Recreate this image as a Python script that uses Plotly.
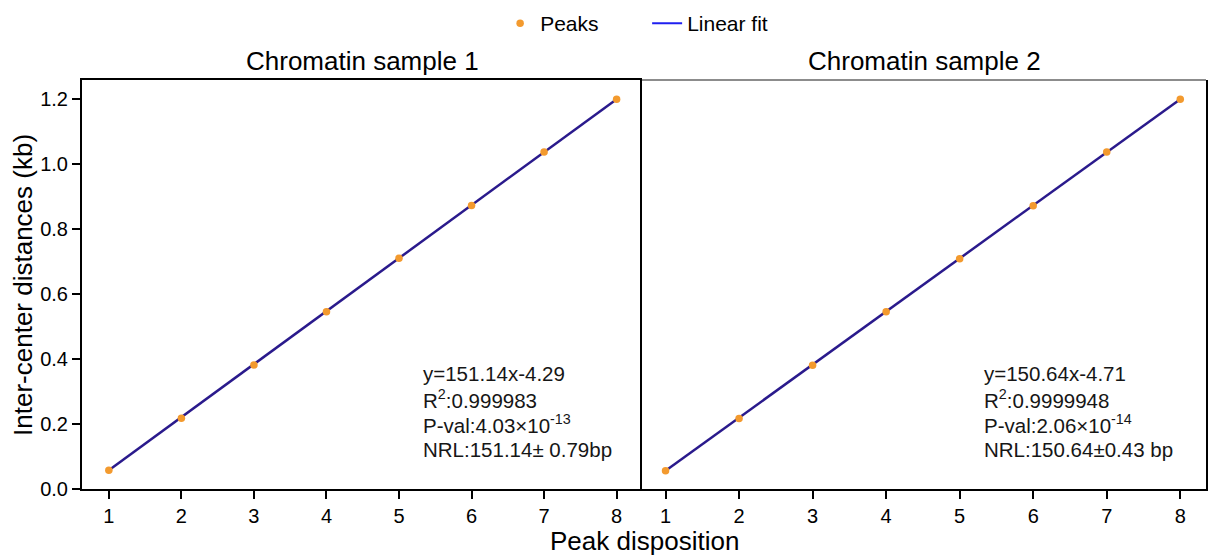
import plotly.graph_objects as go

# ---- data ----
peak_pos = [1, 2, 3, 4, 5, 6, 7, 8]
sample1_dist = [0.058, 0.218, 0.382, 0.546, 0.710, 0.873, 1.037, 1.200]
sample2_dist = [0.056, 0.217, 0.381, 0.546, 0.709, 0.872, 1.037, 1.200]
fit_x = [1, 8]
fit1_y = [0.058, 1.200]
fit2_y = [0.056, 1.200]
panel_titles = ["Chromatin sample 1", "Chromatin sample 2"]
stats1 = ["y=151.14x-4.29", "R<sup>2</sup>:0.999983", "P-val:4.03×10<sup>-13</sup>", "NRL:151.14± 0.79bp"]
stats2 = ["y=150.64x-4.71", "R<sup>2</sup>:0.9999948", "P-val:2.06×10<sup>-14</sup>", "NRL:150.64±0.43 bp"]
x_ticks = [1, 2, 3, 4, 5, 6, 7, 8]
y_ticks = [0.0, 0.2, 0.4, 0.6, 0.8, 1.0, 1.2]
y_tick_text = ["0.0", "0.2", "0.4", "0.6", "0.8", "1.0", "1.2"]

FONT = "Liberation Sans, Arial, sans-serif"
ORANGE = "#F39A2E"
LINE = "#2A1A8C"
LEG_LINE = "#1F1FF0"

fig = go.Figure()

for i, (fy, py) in enumerate([(fit1_y, sample1_dist), (fit2_y, sample2_dist)]):
    xa = "x" if i == 0 else "x2"
    ya = "y" if i == 0 else "y2"
    fig.add_trace(go.Scatter(x=fit_x, y=fy, mode="lines", xaxis=xa, yaxis=ya,
                             line=dict(color=LINE, width=2.5), showlegend=False,
                             hoverinfo="skip"))
    fig.add_trace(go.Scatter(x=peak_pos, y=py, mode="markers", xaxis=xa, yaxis=ya,
                             marker=dict(color=ORANGE, size=7.5), name="Peaks",
                             showlegend=(i == 0), legendrank=1))

# legend entry for the fit line (blue swatch as in the reference)
fig.add_trace(go.Scatter(x=[None], y=[None], mode="lines", name="Linear fit",
                         line=dict(color=LEG_LINE, width=2), legendrank=2))

split = 561 / 1126
axis_common = dict(showline=True, linecolor="black", linewidth=2, showgrid=False,
                   zeroline=False, ticks="outside", ticklen=8, tickwidth=2,
                   tickcolor="black", tickfont=dict(size=20, color="black", family=FONT))

fig.update_layout(
    width=1211, height=555,
    margin=dict(l=82, r=3, t=77, b=66),
    plot_bgcolor="white", paper_bgcolor="white",
    font=dict(family=FONT, color="black"),
    xaxis=dict(domain=[0, split], range=[0.63, 8.35], tickvals=x_ticks, mirror=True,
               **axis_common),
    xaxis2=dict(domain=[split, 1], range=[0.68, 8.35], tickvals=x_ticks, mirror=False,
                anchor="y2", **axis_common),
    yaxis=dict(range=[0, 1.259], tickvals=y_ticks, ticktext=y_tick_text, mirror=False,
               anchor="x", **axis_common),
    yaxis2=dict(range=[0, 1.259], matches="y", anchor="x2", showline=True, mirror=True,
                linecolor="black", linewidth=2, showgrid=False, zeroline=False,
                showticklabels=False, ticks=""),
    legend=dict(orientation="h", x=0.372, xanchor="left", y=1.138, yanchor="middle",
                font=dict(size=21, color="black", family=FONT), entrywidth=102,
                bgcolor="rgba(0,0,0,0)"),
    showlegend=True,
)

# gray top border of the right panel
fig.add_shape(type="line", xref="x2 domain", yref="y2 domain", x0=0, x1=1, y0=1, y1=1,
              line=dict(color="#8C8C8C", width=2))

PLOT_TOP, PLOT_BOTTOM = 77, 489


def paper_y(px):
    return (PLOT_BOTTOM - px) / (PLOT_BOTTOM - PLOT_TOP)


anns = []
for i, t in enumerate(panel_titles):
    anns.append(dict(text=t, xref="x domain" if i == 0 else "x2 domain", yref="paper",
                     x=0.5, y=paper_y(58), xanchor="center", yanchor="middle", showarrow=False,
                     font=dict(size=26, color="black", family=FONT)))
line_centers = [373, 398.5, 424, 449.5]
for i, st in enumerate([stats1, stats2]):
    for line_text, cy in zip(st, line_centers):
        anns.append(dict(text=line_text, xref="x" if i == 0 else "x2", yref="paper",
                         x=5.31, y=paper_y(cy), xanchor="left", yanchor="middle",
                         align="left", showarrow=False,
                         font=dict(size=20.5, color="#161616", family=FONT)))
anns.append(dict(text="Peak disposition", xref="paper", yref="paper", x=0.5, y=paper_y(541),
                 xanchor="center", yanchor="middle", showarrow=False,
                 font=dict(size=26, color="black", family=FONT)))
anns.append(dict(text="Inter-center distances (kb)", xref="paper", yref="paper",
                 x=-0.053, y=0.5, xanchor="center", yanchor="middle", textangle=-90,
                 showarrow=False, font=dict(size=26, color="black", family=FONT)))
fig.update_layout(annotations=anns)

fig.write_html("out.html")
